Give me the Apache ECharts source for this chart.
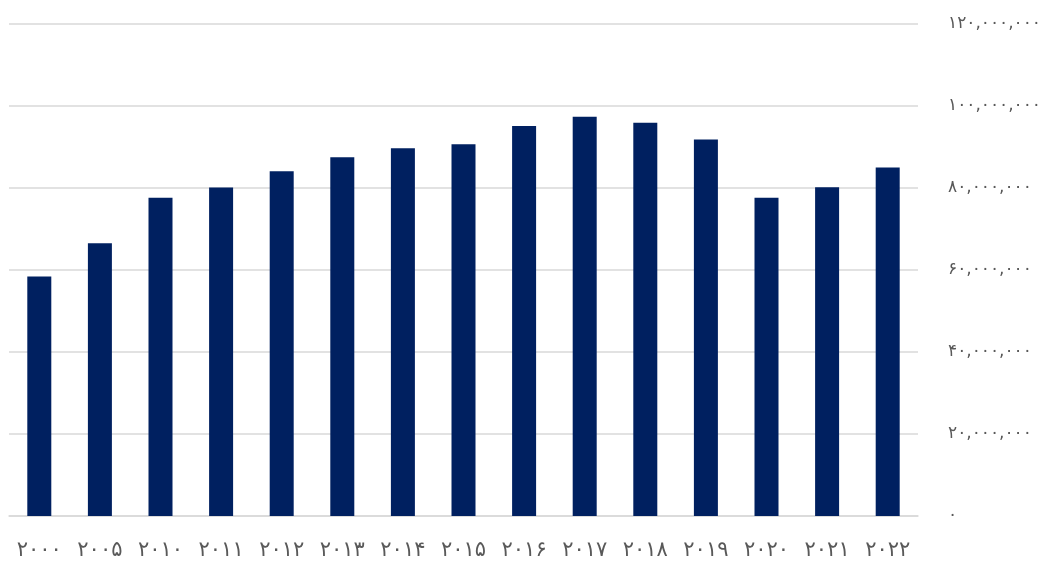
<!DOCTYPE html>
<html lang="fa" style="height:100%;">
<head>
    <meta charset="UTF-8">
    <title>bar chart</title>
    <script src="https://cdn.jsdelivr.net/npm/echarts@6/dist/echarts.min.js"></script>
</head>
<body style="height:100%;margin:0;background:#ffffff;">
<div id="main" style="width:1059px;height:565px;"></div>
<script>
    var years = ['2000', '2005', '2010', '2011', '2012', '2013', '2014', '2015', '2016', '2017', '2018', '2019', '2020', '2021', '2022'];
    var values = [58400000, 66500000, 77600000, 80100000, 84100000, 87500000, 89700000, 90700000, 95100000, 97400000, 95900000, 91800000, 77600000, 80200000, 85000000];

    var faDigits = '۰۱۲۳۴۵۶۷۸۹';
    function toFa(s) {
        return String(s).replace(/[0-9]/g, function (d) { return faDigits[+d]; });
    }
    function fmt(v) {
        return toFa(String(v).replace(/\B(?=(\d{3})+(?!\d))/g, ','));
    }

    var chart = echarts.init(document.getElementById('main'));
    var option = {
        backgroundColor: '#ffffff',
        animation: false,
        grid: {left: 9, right: 141, top: 24, bottom: 49},
        xAxis: {
            type: 'category',
            data: years,
            axisLine: {lineStyle: {color: '#d9d9d9', width: 1.5}},
            axisTick: {show: false},
            axisLabel: {
                color: '#595959',
                fontSize: 21,
                margin: 24,
                fontFamily: 'DejaVu Sans',
                formatter: function (v) { return toFa(v); }
            }
        },
        yAxis: {
            type: 'value',
            position: 'right',
            min: 0,
            max: 120000000,
            interval: 20000000,
            axisLine: {show: false},
            axisTick: {show: false},
            splitLine: {lineStyle: {color: '#d9d9d9', width: 1.5}},
            axisLabel: {
                color: '#595959',
                fontSize: 17,
                margin: 30,
                fontFamily: 'DejaVu Sans',
                formatter: fmt
            }
        },
        series: [{
            type: 'bar',
            data: values,
            barWidth: 24,
            itemStyle: {color: '#002060'}
        }]
    };
    chart.setOption(option);
</script>
</body>
</html>
